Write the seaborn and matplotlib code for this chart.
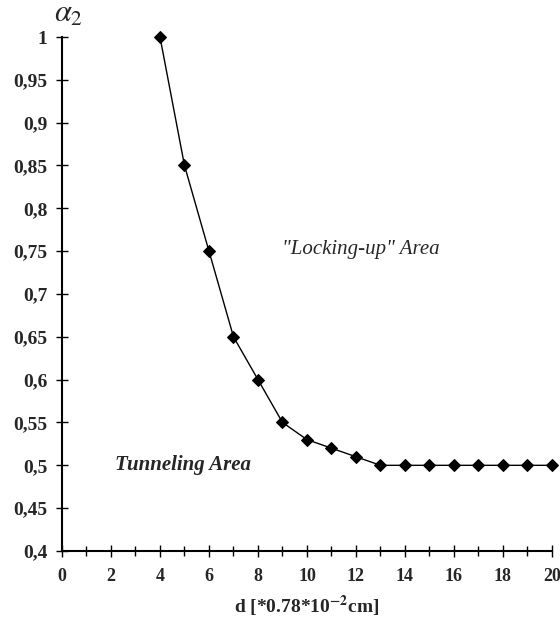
import matplotlib
matplotlib.use("Agg")
import matplotlib.pyplot as plt
import seaborn as sns
import pandas as pd
from matplotlib.ticker import FuncFormatter, MultipleLocator

d_values = [4, 5, 6, 7, 8, 9, 10, 11, 12, 13, 14, 15, 16, 17, 18, 19, 20]
alpha2 = [1.0, 0.85, 0.75, 0.65, 0.60, 0.55, 0.53, 0.52, 0.51, 0.50, 0.50, 0.50, 0.50, 0.50, 0.50, 0.50, 0.50]

sns.set_style("white")
plt.rcParams['font.family'] = ['Liberation Serif', 'DejaVu Serif']
plt.rcParams['mathtext.fontset'] = 'stix'

df = pd.DataFrame({"d": d_values, "alpha2": alpha2})

fig = plt.figure(figsize=(5.6, 6.23), dpi=100)
ax = fig.add_axes([0.1107, 0.1156, 0.875, 0.825])
sns.lineplot(data=df, x="d", y="alpha2", ax=ax, color="black", linewidth=1.0,
             marker="D", markersize=6.5, markeredgecolor="black", markerfacecolor="black",
             clip_on=False)

ax.set_xlim(0, 20)
ax.set_ylim(0.4, 1.0)
ax.xaxis.set_major_locator(MultipleLocator(2))
ax.xaxis.set_minor_locator(MultipleLocator(1))
ax.yaxis.set_major_locator(MultipleLocator(0.05))
ax.yaxis.set_major_formatter(FuncFormatter(lambda v, p: ("%g" % round(v, 2)).replace(".", ",")))
for s in ["top", "right"]:
    ax.spines[s].set_visible(False)
for s in ["left", "bottom"]:
    ax.spines[s].set_color("black")
    ax.spines[s].set_linewidth(1.5)
ax.tick_params(axis="both", which="both", bottom=True, left=True)
ax.tick_params(axis="both", which="major", direction="inout", length=9, width=1, color="black",
               labelsize=14, pad=6)
ax.tick_params(axis="x", which="minor", direction="inout", length=7, width=1, color="black")
ax.tick_params(axis="x", which="major", pad=8, labelsize=13)
for lab in ax.get_xticklabels() + ax.get_yticklabels():
    lab.set_fontweight("bold")

ax.set_xlabel("d [*0.78*10$^{\\mathbf{-2}}$cm]", fontsize=14, fontweight="bold", labelpad=6)
ax.set_ylabel("")
fig.text(0.122, 0.977, r"$\alpha_2$", fontsize=22, ha="center", va="center")

ax.text(4.95, 0.5, "Tunneling Area", fontsize=15, fontweight="bold", fontstyle="italic",
        ha="center", va="center")
ax.text(12.2, 0.752, "\"Locking-up\" Area", fontsize=15, fontstyle="italic",
        ha="center", va="center")

fig.savefig("out.png", dpi=100)
